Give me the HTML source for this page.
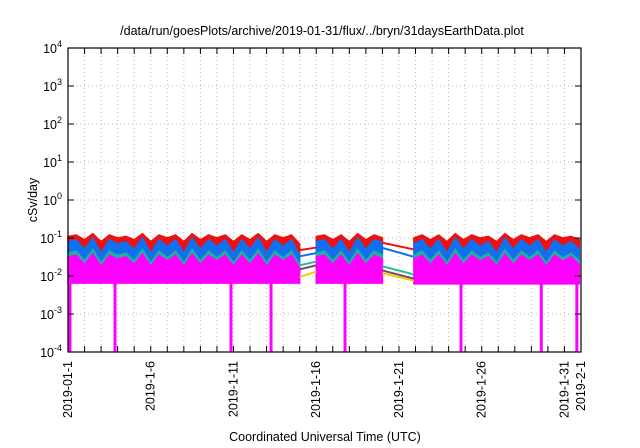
<!DOCTYPE html>
<html><head><meta charset="utf-8"><style>
body{margin:0;background:#fff;}
svg{display:block;font-family:"Liberation Sans",sans-serif;}
</style></head><body>
<svg id="chart" width="640" height="448" viewBox="0 0 640 448">
<text x="322" y="35" text-anchor="middle" font-size="12.5" fill="#000">/data/run/goesPlots/archive/2019-01-31/flux/../bryn/31daysEarthData.plot</text>
<text transform="translate(37,200) rotate(-90)" text-anchor="middle" font-size="12.5">cSv/day</text>
<text x="325" y="441" text-anchor="middle" font-size="12.5">Coordinated Universal Time (UTC)</text>
<g id="grid"></g><g id="data"></g><g id="axes"></g>
</svg>
<script>
const yTicks=[4,3,2,1,0,-1,-2,-3,-4];
const xLabels=["2019-01-1","2019-1-6","2019-1-11","2019-1-16","2019-1-21","2019-1-26","2019-1-31","2019-2-1"];
const xLabelDays=[0,5,10,15,20,25,30,31];
const segStarts=[0,15,20.9];
const step=0.5;
const red=[[0.11,0.12,0.09,0.13,0.08,0.12,0.1,0.11,0.09,0.13,0.08,0.12,0.1,0.12,0.08,0.13,0.09,0.12,0.1,0.12,0.08,0.12,0.09,0.13,0.08,0.12,0.1,0.12,0.07],
[0.11,0.12,0.09,0.12,0.08,0.13,0.09,0.12,0.1],
[0.1,0.12,0.09,0.12,0.08,0.13,0.09,0.12,0.1,0.11,0.08,0.13,0.09,0.12,0.1,0.12,0.08,0.12,0.1,0.11,0.09]];
const blue=[[0.08,0.09,0.05,0.1,0.04,0.09,0.07,0.08,0.05,0.1,0.04,0.09,0.06,0.09,0.04,0.1,0.05,0.09,0.06,0.09,0.04,0.09,0.05,0.1,0.04,0.09,0.06,0.09,0.035],
[0.08,0.09,0.05,0.09,0.04,0.1,0.05,0.09,0.075],
[0.07,0.09,0.05,0.09,0.04,0.1,0.05,0.09,0.06,0.08,0.04,0.1,0.05,0.09,0.06,0.09,0.04,0.09,0.06,0.08,0.05]];
const teal=[[0.04,0.045,0.025,0.05,0.022,0.045,0.035,0.04,0.025,0.05,0.022,0.045,0.03,0.045,0.022,0.05,0.025,0.045,0.03,0.045,0.022,0.045,0.025,0.05,0.022,0.045,0.03,0.045,0.02],
[0.04,0.045,0.025,0.045,0.022,0.05,0.025,0.045,0.035],
[0.035,0.045,0.025,0.045,0.022,0.05,0.025,0.045,0.03,0.04,0.022,0.05,0.025,0.045,0.03,0.045,0.022,0.045,0.03,0.04,0.025]];
const magTop=[[0.032,0.035,0.02,0.038,0.018,0.035,0.028,0.032,0.02,0.038,0.018,0.035,0.025,0.035,0.018,0.038,0.02,0.035,0.025,0.035,0.018,0.035,0.02,0.038,0.018,0.035,0.025,0.035,0.016],
[0.032,0.035,0.02,0.035,0.018,0.038,0.02,0.035,0.028],
[0.028,0.035,0.02,0.035,0.018,0.038,0.02,0.035,0.025,0.032,0.018,0.038,0.02,0.035,0.025,0.035,0.018,0.035,0.025,0.032,0.02]];
const magBottom=[0.0065,0.0065,0.0062];
const dropDays=[0.12,2.84,9.85,12.27,16.74,23.75,28.6,30.75];
const gapRed=[[0.048,0.056],[0.075,0.05]];
const gapBlue=[[0.033,0.04],[0.055,0.032]];
const gapTeal=[[0.019,0.024],[0.018,0.011]];
const gapPurple=[[0.015,0.019],[0.014,0.0085]];
const gapYellow=[[0.0095,0.013],[0.012,0.0075]];
const gaps=[[14,15],[19,20.9]];

const NS="http://www.w3.org/2000/svg";
const L=68,R=581,T=48,B=352;
const x=d=>L+d*(R-L)/31;
const y=v=>T+(4-Math.log10(v))*(B-T)/8;
const yE=e=>T+(4-e)*(B-T)/8;
function mk(tag,attrs,parent){const e=document.createElementNS(NS,tag);for(const k in attrs)e.setAttribute(k,attrs[k]);parent.appendChild(e);return e;}
const grid=document.getElementById('grid'),data=document.getElementById('data'),axes=document.getElementById('axes');
for(let d=1;d<31;d++){const g=mk('line',{x1:x(d),x2:x(d),y1:T,y2:B,stroke:'#bbb','stroke-dasharray':'1,3','stroke-width':1},grid);

}
yTicks.forEach(e=>{if(e===4||e===-4)return;const g=mk('line',{x1:L,x2:R,y1:yE(e),y2:yE(e),stroke:'#bbb','stroke-dasharray':'1,3'},grid);

});
function band(top,botFn,s,color,name){
 const arr=top[s];let pts=[];
 arr.forEach((v,i)=>pts.push(x(segStarts[s]+i*step)+','+y(v)));
 for(let i=arr.length-1;i>=0;i--){pts.push(x(segStarts[s]+i*step)+','+y(botFn(s,i)));}
 const p=mk('polygon',{points:pts.join(' '),fill:color,stroke:color,'stroke-width':1.5},data);
 
 
}
for(let s=0;s<3;s++){
 band(red,(a,i)=>blue[a][i],s,'#f01010','red-series-band');
 band(blue,(a,i)=>teal[a][i],s,'#1070f0','blue-series-band');
 band(teal,(a,i)=>magTop[a][i],s,'#20b0a0','teal-series-band');
 band(magTop,(a,i)=>magBottom[a],s,'#ff00ff','magenta-series-band');
}
function gapLines(arr,color,name){gaps.forEach((g,i)=>{const l=mk('line',{x1:x(g[0]),x2:x(g[1]),y1:y(arr[i][0]),y2:y(arr[i][1]),stroke:color,'stroke-width':2},data);

});}
gapLines(gapYellow,'#e8d000','yellow-gap-line');
gapLines(gapPurple,'#804070','purple-gap-line');
gapLines(gapTeal,'#20c090','teal-gap-line');
gapLines(gapBlue,'#1070f0','blue-gap-line');
gapLines(gapRed,'#f01010','red-gap-line');
dropDays.forEach(d=>{const r=mk('rect',{x:x(d)-1.5,y:y(0.007),width:3,height:B-y(0.007),fill:'#ff00ff'},data);

});
const fr=mk('rect',{x:L,y:T,width:R-L,height:B-T,fill:'none',stroke:'#000','stroke-width':1.2},axes);


for(let d=1;d<31;d++){const t=mk('line',{x1:x(d),x2:x(d),y1:B,y2:B-6,stroke:'#000'},axes);


const t2=mk('line',{x1:x(d),x2:x(d),y1:T,y2:T+6,stroke:'#000'},axes);

}
yTicks.forEach(e=>{const t=mk('line',{x1:L,x2:L+6,y1:yE(e),y2:yE(e),stroke:'#000'},axes);


const t2=mk('line',{x1:R,x2:R-6,y1:yE(e),y2:yE(e),stroke:'#000'},axes);


const tx=mk('text',{x:L-6,y:yE(e)+5,'text-anchor':'end','font-size':12.5},axes);


tx.appendChild(document.createTextNode('10'));
const sp=mk('tspan',{dy:-6,'font-size':9},tx);sp.textContent=String(e);});
xLabels.forEach((lab,i)=>{const tx=mk('text',{transform:`translate(${x(xLabelDays[i])+4},361) rotate(-90)`,'text-anchor':'end','font-size':12.5},axes);


tx.textContent=lab;});
</script>
</body></html>
